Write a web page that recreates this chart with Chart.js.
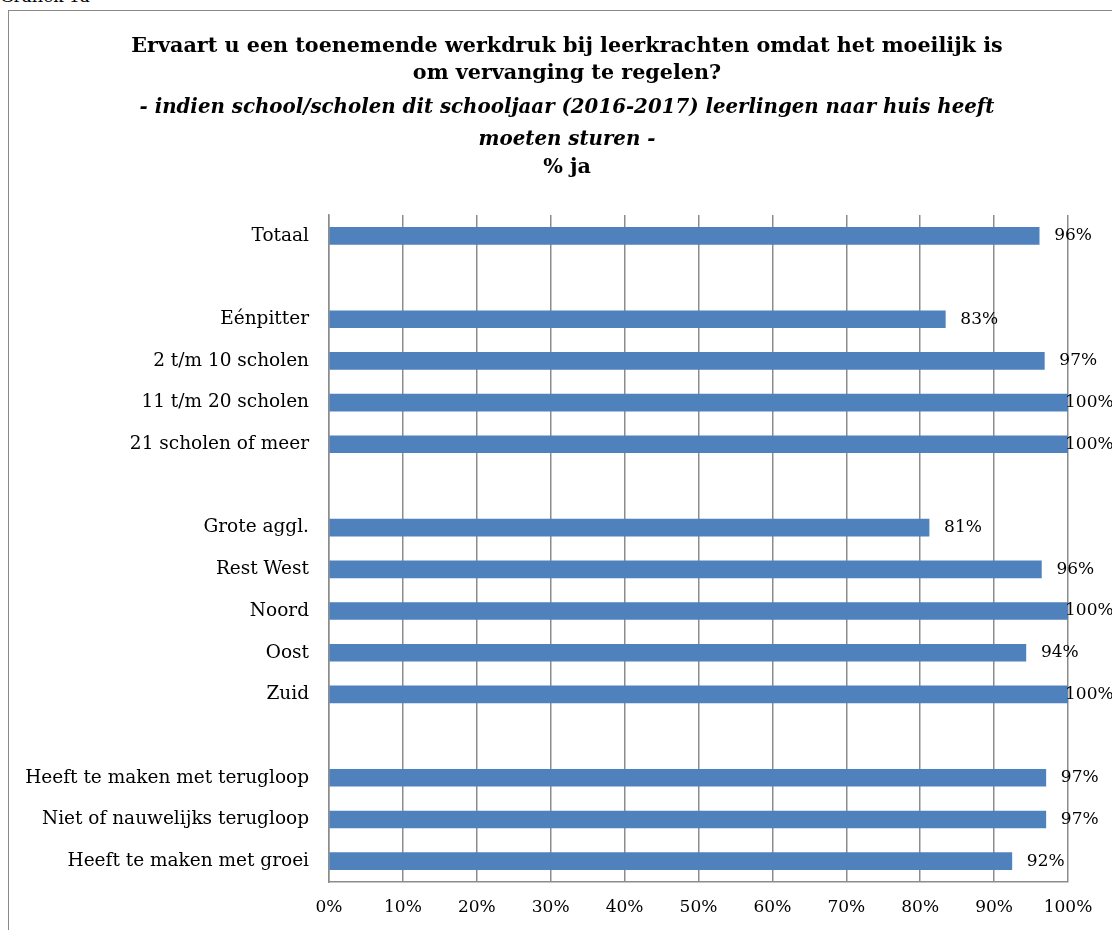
<!DOCTYPE html>
<html>
<head>
<meta charset="utf-8">
<script src="https://cdn.jsdelivr.net/npm/chart.js@4.4.1/dist/chart.umd.min.js"></script>
<style>
    body { margin: 0; background: #fff; overflow: hidden; }
    #wrap { position: relative; width: 1112px; height: 930px; }
    #frame { position: absolute; left: 8px; top: 10px; width: 1200px; height: 1000px; border: 1.5px solid #8a8a8a; box-sizing: border-box; }
    #caption { position: absolute; left: 0; top: -14px; font: 17px "DejaVu Serif", serif; color: #000; }
    .tl { position: absolute; left: 0; width: 1134px; text-align: center; font-family: "DejaVu Serif", serif; font-size: 20.7px; font-weight: bold; color: #000; line-height: 26px; white-space: nowrap; }
    .it { font-style: italic; font-size: 19.8px; }
    canvas { position: absolute; left: 0; top: 0; }
</style>
</head>
<body>
<div id="wrap">
    <div id="frame"></div>
    <div id="caption">Grafiek 1a</div>
    <canvas id="werkdrukChart" width="1112" height="930"></canvas>
    <div class="tl" style="top:32px">Ervaart u een toenemende werkdruk bij leerkrachten omdat het moeilijk is</div>
    <div class="tl" style="top:59px">om vervanging te regelen?</div>
    <div class="tl it" style="top:93px">- indien school/scholen dit schooljaar (2016-2017) leerlingen naar huis heeft</div>
    <div class="tl it" style="top:125px">moeten sturen -</div>
    <div class="tl" style="top:153px">% ja</div>
</div>
<script>
    const categories = [
        "Totaal", "",
        "Eénpitter", "2 t/m 10 scholen", "11 t/m 20 scholen", "21 scholen of meer", "",
        "Grote aggl.", "Rest West", "Noord", "Oost", "Zuid", "",
        "Heeft te maken met terugloop", "Niet of nauwelijks terugloop", "Heeft te maken met groei"
    ];
    const jaValues = [
        96.1, null,
        83.4, 96.8, 100, 100, null,
        81.2, 96.4, 100, 94.3, 100, null,
        97.0, 97.0, 92.4
    ];
    const tickLabels = ["0%", "10%", "20%", "30%", "40%", "50%", "60%", "70%", "80%", "90%", "100%"];

    const barColor = "#4f81bd";
    const gridColor = "#8c8c8c";
    const textColor = "#000000";
    const numberFont = { family: "DejaVu Serif", size: 17 };
    const categoryFont = { family: "DejaVu Serif", size: 18.5 };

    const valueLabels = {
        id: "valueLabels",
        afterDatasetsDraw(chart) {
            const ctx = chart.ctx;
            const meta = chart.getDatasetMeta(0);
            ctx.save();
            ctx.font = numberFont.size + "px " + numberFont.family;
            ctx.fillStyle = textColor;
            ctx.textAlign = "left";
            ctx.textBaseline = "middle";
            meta.data.forEach(function (bar, i) {
                const v = jaValues[i];
                if (v === null) return;
                const x = Math.min(bar.x + 15, chart.chartArea.right - 3);
                ctx.fillText(Math.round(v) + "%", x, bar.y);
            });
            ctx.restore();
        },
    };

    new Chart(document.getElementById("werkdrukChart").getContext("2d"), {
        type: "bar",
        data: {
            labels: categories,
            datasets: [
                {
                    label: "% ja",
                    data: jaValues,
                    backgroundColor: barColor,
                    borderWidth: 0,
                    barThickness: 17,
                },
            ],
        },
        options: {
            indexAxis: "y",
            responsive: false,
            animation: false,
            layout: {
                padding: { top: 215, right: 44, left: 0, bottom: 0 },
            },
            plugins: {
                legend: { display: false },
                tooltip: { enabled: false },
            },
            scales: {
                x: {
                    min: 0,
                    max: 100,
                    afterFit: function (scale) {
                        scale.height = 48;
                    },
                    ticks: {
                        stepSize: 10,
                        color: textColor,
                        font: numberFont,
                        padding: 15,
                        callback: function (value, index) {
                            return tickLabels[index];
                        },
                    },
                    grid: {
                        color: gridColor,
                        lineWidth: 1.5,
                        drawTicks: false,
                    },
                    border: { color: gridColor, width: 1.5 },
                },
                y: {
                    afterFit: function (scale) {
                        scale.width = 329;
                    },
                    ticks: {
                        color: textColor,
                        font: categoryFont,
                        padding: 20,
                        autoSkip: false,
                    },
                    grid: { display: false, drawTicks: false },
                    border: { color: gridColor, width: 1.5 },
                },
            },
        },
        plugins: [valueLabels],
    });
</script>
</body>
</html>
